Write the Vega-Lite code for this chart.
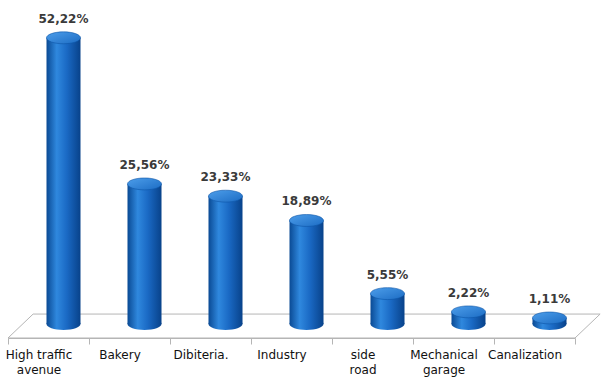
{
  "$schema": "https://vega.github.io/schema/vega-lite/v6.json",
  "width": 567,
  "height": 338,
  "autosize": {"type": "none"},
  "padding": {"left": 8, "top": 0, "right": 26, "bottom": 40},
  "background": "white",
  "config": {"view": {"stroke": null}},
  "resolve": {"scale": {"x": "independent"}, "axis": {"x": "independent"}},
  "layer": [
    {
      "data": {"values": [
        {"fx": 0, "fy": -2.55, "ord": 0},
        {"fx": 0.31, "fy": 1.82, "ord": 1},
        {"fx": 7.31, "fy": 1.82, "ord": 2},
        {"fx": 7, "fy": -2.55, "ord": 3},
        {"fx": 0, "fy": -2.55, "ord": 4}
      ]},
      "mark": {"type": "line", "stroke": "#b5b5b5", "strokeWidth": 1, "clip": false},
      "encoding": {
        "x": {"field": "fx", "type": "quantitative", "scale": {"domain": [0, 7], "nice": false, "zero": false}, "axis": null},
        "y": {"field": "fy", "type": "quantitative", "scale": {"domain": [-2.55, 59.12], "nice": false, "zero": false}, "axis": null},
        "order": {"field": "ord"}
      }
    },
    {
      "data": {"values": [
        {"cat": "High traffic|avenue", "value": 52.22},
        {"cat": "Bakery", "value": 25.56},
        {"cat": "Dibiteria.", "value": 23.33},
        {"cat": "Industry", "value": 18.89},
        {"cat": "side|road", "value": 5.55},
        {"cat": "Mechanical|garage", "value": 2.22},
        {"cat": "Canalization", "value": 1.11}
      ]},
      "transform": [
        {"calculate": "replace(format(datum.value, '.2f'), '.', ',') + '%'", "as": "lbl"},
        {"calculate": "0", "as": "base"}
      ],
      "encoding": {
        "x": {"field": "cat", "type": "nominal", "sort": null, "title": null, "scale": {"paddingInner": 0, "paddingOuter": 0},
          "axis": {"labelExpr": "split(datum.label, '|')", "labelAngle": 0, "tickBand": "extent", "tickSize": 6,
            "tickColor": "#b5b5b5", "domainColor": "#b5b5b5", "labelFont": "DejaVu Sans", "labelFontSize": 12,
            "labelColor": "#111111", "labelPadding": 5, "labelLineHeight": 15, "labelOffset": -10, "labelBaseline": "top"}},
        "y": {"field": "value", "type": "quantitative", "scale": {"domain": [-2.55, 59.12], "nice": false, "zero": false}, "axis": null}
      },
      "layer": [
        {
          "mark": {"type": "point", "shape": "M-1,0A1,0.35,0,1,0,1,0A1,0.35,0,1,0,-1,0Z", "size": 1156, "filled": true, "opacity": 1, "xOffset": 15,
            "fill": {"gradient": "linear", "x1": 0, "y1": 0, "x2": 1, "y2": 0, "stops": [
              {"offset": 0, "color": "#0a4a94"}, {"offset": 0.3, "color": "#2f88de"}, {"offset": 0.6, "color": "#1a69c4"}, {"offset": 1, "color": "#08428a"}]}},
          "encoding": {"y": {"field": "base", "type": "quantitative"}}
        },
        {
          "mark": {"type": "bar", "width": 34, "xOffset": 15,
            "fill": {"gradient": "linear", "x1": 0, "y1": 0, "x2": 1, "y2": 0, "stops": [
              {"offset": 0, "color": "#0a4a94"}, {"offset": 0.3, "color": "#2f88de"}, {"offset": 0.6, "color": "#1a69c4"}, {"offset": 1, "color": "#08428a"}]}},
          "encoding": {"y2": {"datum": 0}}
        },
        {
          "mark": {"type": "point", "shape": "M-1,0A1,0.35,0,1,0,1,0A1,0.35,0,1,0,-1,0Z", "size": 1156, "filled": true, "opacity": 1, "xOffset": 15,
            "stroke": "#0d56a8", "strokeWidth": 0.6,
            "fill": {"gradient": "linear", "x1": 0, "y1": 0, "x2": 1, "y2": 1, "stops": [
              {"offset": 0, "color": "#4d9eea"}, {"offset": 1, "color": "#1c6cc4"}]}}
        },
        {
          "mark": {"type": "text", "xOffset": 15, "dy": -12, "baseline": "bottom", "align": "center",
            "font": "DejaVu Sans", "fontSize": 12, "fontWeight": "bold", "color": "#3a3a3a"},
          "encoding": {"text": {"field": "lbl"}}
        }
      ]
    }
  ]
}
